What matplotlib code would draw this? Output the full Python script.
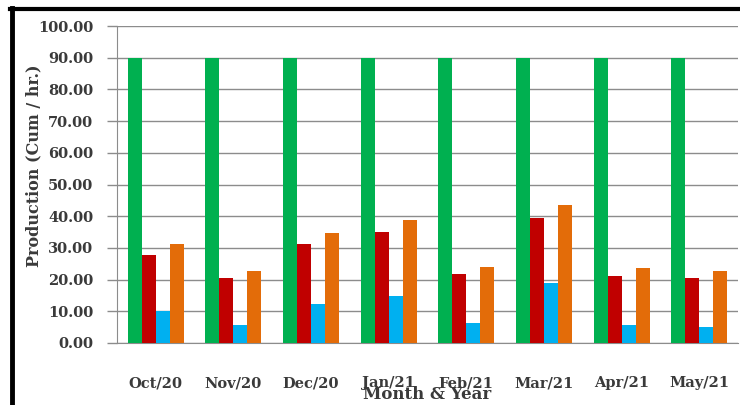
import matplotlib
matplotlib.use("Agg")
import matplotlib.pyplot as plt
import numpy as np
from matplotlib.lines import Line2D

months = ["Oct/20", "Nov/20", "Dec/20", "Jan/21", "Feb/21", "Mar/21", "Apr/21", "May/21"]
target = [90.0, 90.0, 90.0, 90.0, 90.0, 90.0, 90.0, 90.0]
series_red = [27.8, 20.6, 31.3, 35.1, 21.8, 39.3, 21.1, 20.4]
series_blue = [10.0, 5.6, 12.4, 14.8, 6.3, 19.0, 5.6, 5.1]
series_orange = [31.3, 22.6, 34.6, 38.8, 24.1, 43.5, 23.6, 22.7]
y_ticks = [0, 10, 20, 30, 40, 50, 60, 70, 80, 90, 100]

colors = ["#00B050", "#C00000", "#00B0F0", "#E36C09"]
serif = "DejaVu Serif"
label_color = "#3a3a3a"

fig = plt.figure(figsize=(7.4, 4.05), dpi=100)
ax = fig.add_axes([117 / 740, 1 - 343 / 405, (738 - 117) / 740, (343 - 26) / 405])

x = np.arange(len(months))
w = 0.18
for k, vals in enumerate([target, series_red, series_blue, series_orange]):
    ax.bar(x + (k - 1.5) * w, vals, width=w, color=colors[k], zorder=3)

ax.set_xlim(-0.5, len(months) - 0.5)
ax.set_ylim(0, 100)
ax.set_yticks(y_ticks)
ax.set_yticklabels([f"{v:.2f}" for v in y_ticks], fontfamily=serif,
                   fontweight="bold", fontsize=10.5, color=label_color)
ax.set_xticks(x)
ax.set_xticklabels(months, fontfamily=serif, fontweight="bold",
                   fontsize=10.5, color=label_color)
ax.tick_params(axis="x", length=0, pad=24)
ax.tick_params(axis="y", length=7, width=1, color="#8c8c8c", pad=10)

ax.grid(axis="y", color="#8c8c8c", linewidth=1, zorder=0)
for side in ["top", "right"]:
    ax.spines[side].set_visible(False)
for side in ["left", "bottom"]:
    ax.spines[side].set_color("#8c8c8c")

ax.set_ylabel("Production (Cum / hr.)", fontfamily=serif, fontweight="bold",
              fontsize=11.5, color=label_color)
ax.yaxis.set_label_coords(-0.12, 0.56)
ax.set_xlabel("Month & Year", fontfamily=serif, fontweight="bold",
              fontsize=12, color=label_color)
ax.xaxis.set_label_coords(0.5, -0.136)

# thick black frame along the left and top edges
fig.add_artist(Line2D([12 / 740, 12 / 740], [0, 1 - 8 / 405], color="black",
                      linewidth=3.5, transform=fig.transFigure))
fig.add_artist(Line2D([10 / 740, 1], [1 - 9 / 405, 1 - 9 / 405], color="black",
                      linewidth=3, transform=fig.transFigure))

fig.savefig("out.png", dpi=100)
